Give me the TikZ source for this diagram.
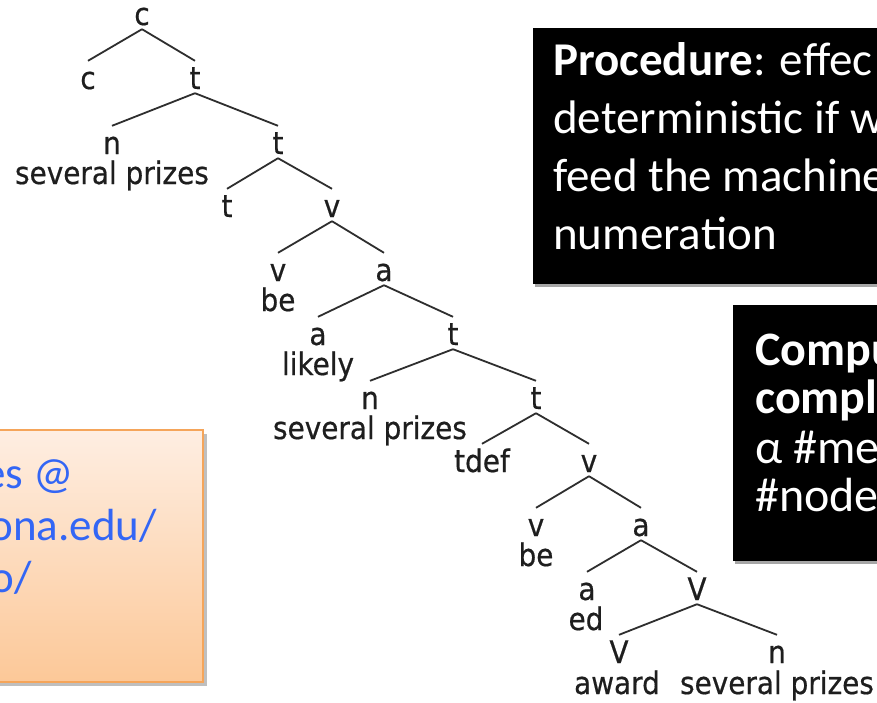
\documentclass[tikz,border=0pt]{standalone}
\usepackage{fontspec}
\setmainfont{Carlito}
\newfontfamily\treefont{DejaVu Sans}[FakeStretch=0.9, FakeBold=0.5]
\usetikzlibrary{positioning}
\definecolor{treeink}{HTML}{1E1E1E}
\definecolor{treeline}{HTML}{2E2E2E}
\definecolor{linkblue}{HTML}{3366F5}
\definecolor{peachtop}{HTML}{FEEEE2}
\definecolor{peachbot}{HTML}{FCC898}
\definecolor{peachedge}{HTML}{F5A55A}
\tikzset{
  lab/.style={anchor=base, inner sep=0pt, text height=19pt, text depth=0pt,
    font=\treefont\fontsize{31}{34}\selectfont, text=treeink},
  word/.style={anchor=base, inner sep=0pt,
    font=\treefont\fontsize{31}{34}\selectfont, text=treeink},
  edge/.style={draw=treeline, line width=1.8pt},
  boxtext/.style={anchor=base west, inner sep=0pt, text=white,
    font=\fontsize{47}{56}\selectfont},
  boxtextb/.style={anchor=base west, inner sep=0pt, text=white,
    font=\fontsize{48}{56}\selectfont},
  urltext/.style={anchor=base east, inner sep=0pt, text=linkblue,
    font=\fontsize{45}{52}\selectfont},
}
\begin{document}
\begin{tikzpicture}[x=1pt,y=-1pt]
\useasboundingbox (0,0) rectangle (877,702);
\clip (0,0) rectangle (877,702);
\fill[white] (0,0) rectangle (877,702);

% black boxes
\fill[black!35] (535,30) rectangle (900,287);
\fill[black] (533,28) rectangle (900,284);
\fill[black!35] (735,307) rectangle (900,564);
\fill[black] (733,305) rectangle (900,561);

\node[boxtext] (p1) at (553,75) {\textbf{Procedure}: effec};
\node[boxtext] (p2) at (553,133) {deterministic if w};
\node[boxtext] (p3) at (553,191) {feed the machine};
\node[boxtext] (p4) at (553,249) {numeration};

\node[boxtextb] (q1) at (755,365) {\textbf{Compu}};
\node[boxtextb] (q2) at (755,413) {\textbf{compl}};
\node[boxtextb] (q3) at (755,463) {α \#me};
\node[boxtextb] (q4) at (755,511) {\#node};

% orange box
\fill[black!25] (-10,434) rectangle (207,686);
\shade[top color=peachtop, bottom color=peachbot] (-10,430) rectangle (203,682);
\draw[peachedge, line width=1.5pt] (-10,430) rectangle (203,682);
\node[urltext] (u1) at (74,488) {es @};
\node[urltext] (u2) at (157,540) {ona.edu/};
\node[urltext] (u3) at (32,592) {o/};

% tree
\node[lab] (r)  at (142,25) {c};
\node[lab] (c1) at (88,89) {c};
\node[lab] (t1) at (195,89) {t};
\node[lab] (n1) at (112,154) {n};
\node[word] (w1) at (112,184) {several prizes};
\node[lab] (t2) at (278,154) {t};
\node[lab] (t3) at (227,217) {t};
\node[lab] (v1) at (332,217) {v};
\node[lab] (v2) at (278,281) {v};
\node[word] (w2) at (278,311) {be};
\node[lab] (a1) at (384,281) {a};
\node[lab] (a2) at (318,345) {a};
\node[word] (w3) at (318,375) {likely};
\node[lab] (t4) at (453,345) {t};
\node[lab] (n2) at (370,409) {n};
\node[word] (w4) at (370,439) {several prizes};
\node[lab] (t5) at (536,409) {t};
\node[lab] (td) at (482,472) {tdef};
\node[lab] (v3) at (589,472) {v};
\node[lab] (v4) at (536,536) {v};
\node[word] (w5) at (536,566) {be};
\node[lab] (a3) at (641,536) {a};
\node[lab] (a4) at (587,600) {a};
\node[word] (w6) at (586,630) {ed};
\node[lab] (V1) at (697,600) {V};
\node[lab] (V2) at (619,663) {V};
\node[word] (w7) at (617,694) {award};
\node[lab] (n3) at (777,663) {n};
\node[word] (w8) at (777,694) {several prizes};

\foreach \p/\c in {r/c1, r/t1, t1/n1, t1/t2, t2/t3, t2/v1, v1/v2, v1/a1,
  a1/a2, a1/t4, t4/n2, t4/t5, t5/td, t5/v3, v3/v4, v3/a3, a3/a4, a3/V1,
  V1/V2, V1/n3}
  \draw[edge] ([yshift=-4pt]\p.south) -- ([yshift=9pt]\c.north);
\end{tikzpicture}
\end{document}
